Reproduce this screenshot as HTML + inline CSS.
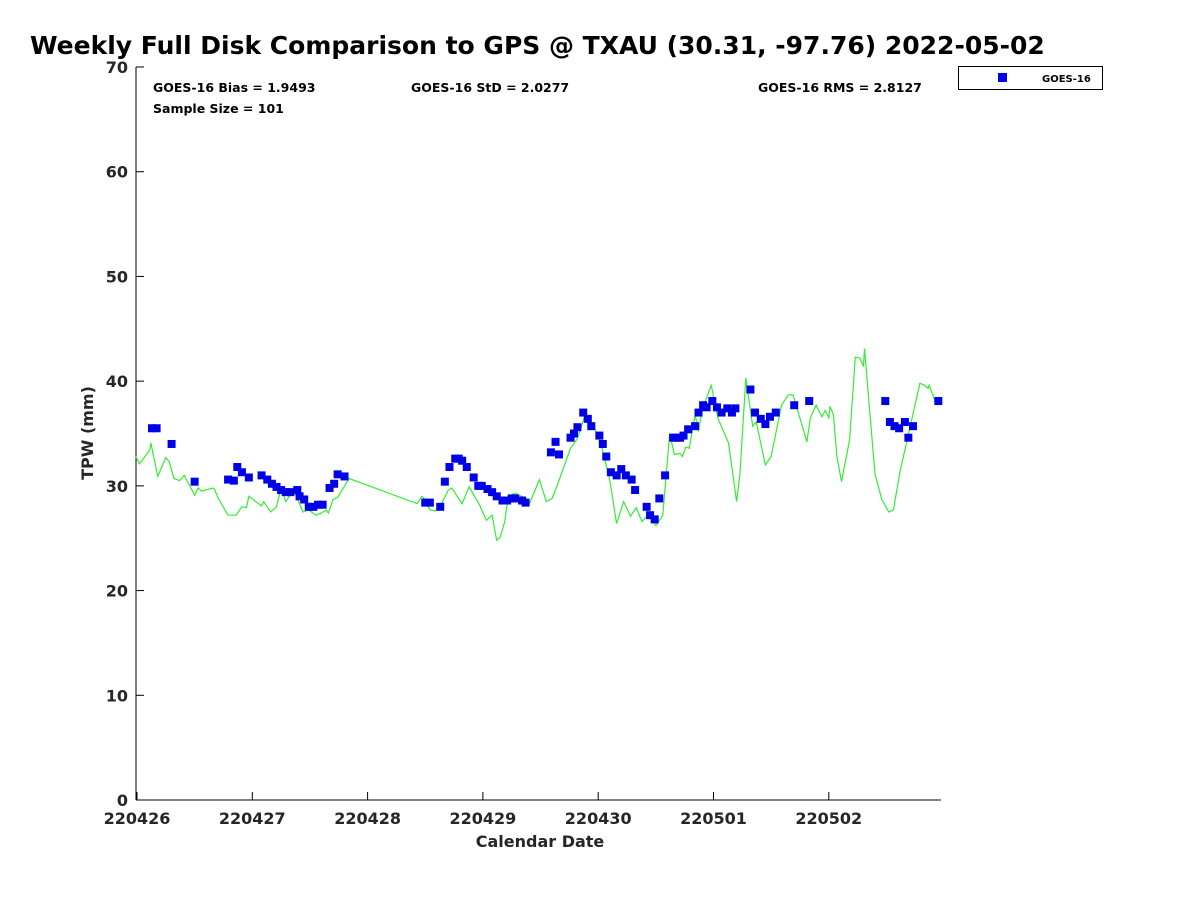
<!DOCTYPE html>
<html><head><meta charset="utf-8"><style>
body{margin:0;background:#fff;}
svg{display:block;font-family:"DejaVu Sans","Liberation Sans",sans-serif;font-weight:bold;}
</style></head><body>
<svg id="chart" width="1200" height="900">
<text x="30" y="54" font-size="25">Weekly Full Disk Comparison to GPS @ TXAU (30.31, -97.76) 2022-05-02</text>
<line x1="136" y1="67" x2="136" y2="800" stroke="#000"/>
<line x1="136" y1="800" x2="941" y2="800" stroke="#000"/>
<g id="yt"></g><g id="xt"></g>
<text x="540" y="847" font-size="16" text-anchor="middle" fill="#262626">Calendar Date</text>
<text x="0" y="0" font-size="16" text-anchor="middle" fill="#262626" transform="translate(93,433) rotate(-90)">TPW (mm)</text>
<text x="153" y="92" font-size="12.5">GOES-16 Bias = 1.9493</text>
<text x="411" y="92" font-size="12.5">GOES-16 StD = 2.0277</text>
<text x="758" y="92" font-size="12.5">GOES-16 RMS = 2.8127</text>
<text x="153" y="113" font-size="12.5">Sample Size = 101</text>
<g>
<rect x="958.5" y="66.5" width="144" height="23" fill="#fff" stroke="#000"/>
<rect x="998" y="73" width="9" height="9" fill="#0000e6"/>
<text x="1042" y="82" font-size="10">GOES-16</text>
</g>
<path id="gline" fill="none" stroke="#33ee33" stroke-width="1.2"/>
<g id="pts"></g>
</svg>
<script>
const xTickLabels=["220426","220427","220428","220429","220430","220501","220502"];
const yTicks=[0,10,20,30,40,50,60,70];
const gpsDays=[-0.01,0.02,0.11,0.12,0.18,0.25,0.28,0.32,0.37,0.41,0.50,0.53,0.56,0.66,0.67,0.71,0.79,0.86,0.91,0.95,0.97,1.08,1.10,1.16,1.21,1.25,1.29,1.36,1.44,1.49,1.55,1.60,1.64,1.66,1.70,1.74,1.84,2.43,2.47,2.50,2.54,2.59,2.65,2.70,2.73,2.82,2.88,2.97,3.03,3.08,3.12,3.15,3.19,3.22,3.28,3.37,3.40,3.49,3.55,3.60,3.64,3.76,3.82,3.89,3.97,4.03,4.10,4.16,4.22,4.28,4.33,4.38,4.43,4.50,4.56,4.62,4.66,4.71,4.73,4.76,4.79,4.84,4.87,4.90,4.98,5.04,5.13,5.20,5.23,5.28,5.34,5.37,5.45,5.50,5.59,5.65,5.69,5.81,5.84,5.89,5.94,5.97,6.00,6.01,6.04,6.07,6.11,6.18,6.23,6.27,6.30,6.31,6.40,6.46,6.52,6.56,6.62,6.68,6.79,6.83,6.86,6.87,6.93,6.96];
const gpsValues=[32.8,32.1,33.4,34.1,30.9,32.7,32.3,30.7,30.5,31.0,29.1,29.8,29.5,29.8,29.7,28.7,27.2,27.2,28.0,27.9,29.0,28.1,28.5,27.5,28.0,29.8,28.5,29.6,27.5,27.7,27.2,27.4,27.7,27.4,28.7,28.9,30.7,28.3,29.0,28.7,27.7,27.6,28.5,29.6,29.8,28.3,29.9,28.2,26.7,27.2,24.8,25.1,26.6,29.0,29.3,28.8,28.2,30.6,28.5,28.8,29.9,33.6,34.5,36.9,35.5,33.7,30.6,26.4,28.5,27.1,27.9,26.6,27.2,26.2,27.2,35.0,33.0,33.1,32.8,33.7,33.6,36.8,35.2,37.2,39.6,36.4,34.1,28.5,31.2,40.3,35.7,36.1,32.0,32.8,37.7,38.7,38.7,34.2,36.5,37.7,36.6,37.2,36.5,37.6,36.8,32.8,30.4,34.4,42.3,42.2,41.4,43.1,31.2,28.7,27.5,27.7,31.5,34.4,39.8,39.6,39.3,39.6,37.9,38.5];
const goesDays=[0.13,0.17,0.30,0.50,0.79,0.84,0.87,0.91,0.97,1.08,1.13,1.17,1.21,1.25,1.29,1.33,1.39,1.41,1.45,1.49,1.53,1.57,1.61,1.67,1.71,1.74,1.80,2.50,2.54,2.63,2.67,2.71,2.76,2.79,2.82,2.86,2.92,2.96,2.99,3.04,3.08,3.12,3.17,3.21,3.25,3.28,3.34,3.37,3.59,3.63,3.66,3.76,3.79,3.82,3.87,3.91,3.94,4.01,4.04,4.07,4.11,4.16,4.20,4.24,4.29,4.32,4.42,4.45,4.49,4.53,4.58,4.65,4.68,4.71,4.74,4.78,4.84,4.87,4.91,4.94,4.99,5.03,5.07,5.12,5.16,5.19,5.32,5.36,5.41,5.45,5.49,5.54,5.70,5.83,6.49,6.53,6.57,6.61,6.66,6.69,6.73,6.95];
const goesValues=[35.5,35.5,34.0,30.4,30.6,30.5,31.8,31.3,30.8,31.0,30.6,30.2,29.9,29.6,29.4,29.4,29.6,29.0,28.7,28.0,28.0,28.2,28.2,29.8,30.2,31.1,30.9,28.4,28.4,28.0,30.4,31.8,32.6,32.6,32.4,31.8,30.8,30.0,30.0,29.7,29.4,29.0,28.6,28.6,28.8,28.8,28.6,28.4,33.2,34.2,33.0,34.6,35.0,35.6,37.0,36.4,35.7,34.8,34.0,32.8,31.3,31.0,31.6,31.0,30.6,29.6,28.0,27.2,26.8,28.8,31.0,34.6,34.6,34.6,34.8,35.4,35.7,37.0,37.7,37.5,38.1,37.5,37.0,37.4,37.0,37.4,39.2,37.0,36.4,35.9,36.6,37.0,37.7,38.1,38.1,36.1,35.7,35.5,36.1,34.6,35.7,38.1];
const NS="http://www.w3.org/2000/svg";
const X=d=>137+d*115.3;
const Y=v=>800-v*(733/70);
const yt=document.getElementById('yt');
yTicks.forEach(v=>{
  const l=document.createElementNS(NS,'line');
  l.setAttribute('x1',136);l.setAttribute('x2',144);l.setAttribute('y1',Y(v));l.setAttribute('y2',Y(v));l.setAttribute('stroke','#000');
  
  
  yt.appendChild(l);
  const t=document.createElementNS(NS,'text');
  t.setAttribute('x',128);t.setAttribute('y',Y(v)+6);t.setAttribute('text-anchor','end');t.setAttribute('font-size','16');t.setAttribute('fill','#262626');
  t.textContent=v;
  
  
  yt.appendChild(t);
});
const xt=document.getElementById('xt');
xTickLabels.forEach((s,i)=>{
  const l=document.createElementNS(NS,'line');
  l.setAttribute('x1',X(i));l.setAttribute('x2',X(i));l.setAttribute('y1',800);l.setAttribute('y2',792);l.setAttribute('stroke','#000');
  
  
  xt.appendChild(l);
  const t=document.createElementNS(NS,'text');
  t.setAttribute('x',X(i));t.setAttribute('y',824);t.setAttribute('text-anchor','middle');t.setAttribute('font-size','16');t.setAttribute('fill','#262626');
  t.textContent=s;
  
  
  xt.appendChild(t);
});
document.getElementById('gline').setAttribute('d',gpsDays.map((d,i)=>(i?'L':'M')+X(d).toFixed(1)+','+Y(gpsValues[i]).toFixed(1)).join(''));
const pts=document.getElementById('pts');
goesDays.forEach((d,i)=>{
  const r=document.createElementNS(NS,'rect');
  r.setAttribute('x',X(d)-4);r.setAttribute('y',Y(goesValues[i])-4);r.setAttribute('width',8);r.setAttribute('height',8);r.setAttribute('fill','#0000e6');
  
  
  pts.appendChild(r);
});
</script>
</body></html>
